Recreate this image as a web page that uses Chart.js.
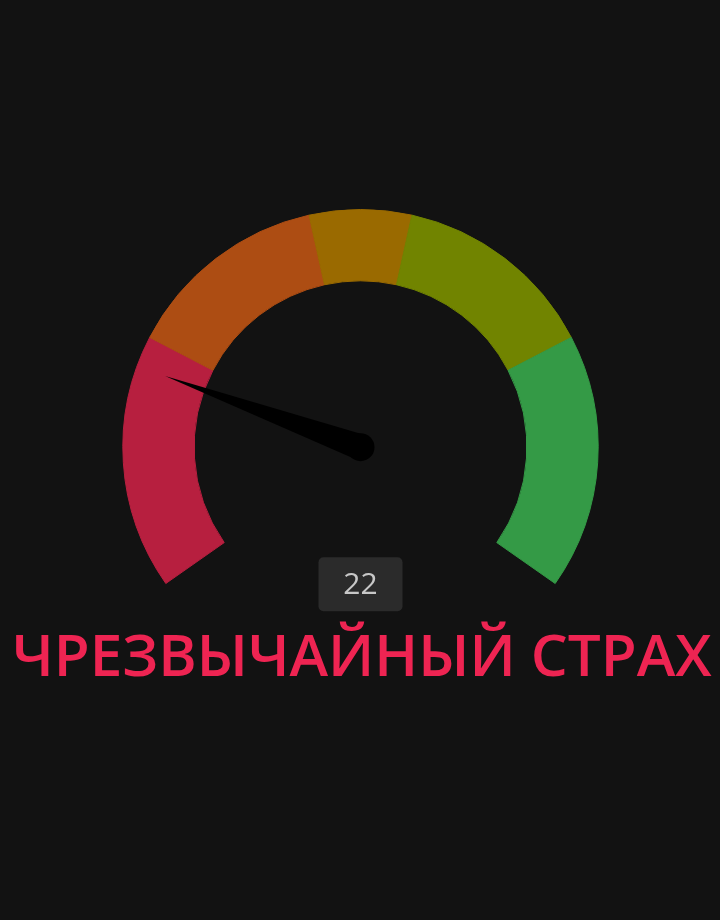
<!DOCTYPE html>
<html>
<head>
<meta charset="utf-8">
<script src="https://cdn.jsdelivr.net/npm/chart.js@4/dist/chart.umd.min.js"></script>
<style>
  html, body { margin: 0; padding: 0; background: #121212; }
  #wrap { position: relative; width: 720px; height: 920px; }
</style>
</head>
<body>
<div id="wrap"><canvas id="gauge"></canvas></div>
<script>
// zones of the fear & greed scale (0..100)
const zones = ["Чрезвычайный страх", "Страх", "Нейтрально", "Жадность", "Чрезвычайная жадность"];
const zoneSizes = [25, 20, 10, 20, 25];
const zoneColors = ["#b71f3f", "#ad4d13", "#9a6a00", "#718400", "#349a46"];
const indexValue = 22;
const indexLabel = "ЧРЕЗВЫЧАЙНЫЙ СТРАХ";

const ROTATION = -125;
const CIRCUMFERENCE = 250;

// needle + value badge + caption
const gaugeExtras = {
  id: "gaugeExtras",
  afterDatasetsDraw(chart) {
    const ctx = chart.ctx;
    const arc = chart.getDatasetMeta(0).data[0];
    const cx = arc.x, cy = arc.y, r = arc.outerRadius;
    const total = zoneSizes.reduce((a, b) => a + b, 0);

    const start = (ROTATION - 90) * Math.PI / 180;
    const ang = start + (indexValue / total) * CIRCUMFERENCE * Math.PI / 180;
    const len = r * 0.875;
    const hw = 13;

    ctx.save();
    ctx.fillStyle = "#000";
    ctx.beginPath();
    ctx.moveTo(cx + Math.cos(ang) * len, cy + Math.sin(ang) * len);
    ctx.lineTo(cx + Math.cos(ang + Math.PI / 2) * hw, cy + Math.sin(ang + Math.PI / 2) * hw);
    ctx.lineTo(cx + Math.cos(ang - Math.PI / 2) * hw, cy + Math.sin(ang - Math.PI / 2) * hw);
    ctx.closePath();
    ctx.fill();
    ctx.beginPath();
    ctx.arc(cx, cy, 14, 0, Math.PI * 2);
    ctx.fill();

    // value badge
    const bx = cx - 42, by = cy + 110, bw = 84, bh = 54;
    ctx.fillStyle = "#2b2b2b";
    ctx.beginPath();
    ctx.roundRect(bx, by, bw, bh, 5);
    ctx.fill();
    ctx.fillStyle = "#c8c8c8";
    ctx.font = "30px 'Open Sans'";
    ctx.textAlign = "center";
    ctx.textBaseline = "middle";
    ctx.fillText(String(indexValue), cx, by + bh / 2 + 1);

    // caption, sized to span the page width
    ctx.font = "600 56px 'Open Sans'";
    const w = ctx.measureText(indexLabel).width;
    const size = 56 * 700 / w;
    ctx.font = "600 " + size.toFixed(1) + "px 'Open Sans'";
    ctx.fillStyle = "#ee2452";
    ctx.textBaseline = "alphabetic";
    ctx.fillText(indexLabel, 362, 676);
    ctx.restore();
  }
};

new Chart(document.getElementById("gauge"), {
  type: "doughnut",
  data: {
    labels: zones,
    datasets: [{
      data: zoneSizes,
      backgroundColor: zoneColors,
      borderColor: zoneColors,
      borderWidth: 1,
    }],
  },
  options: {
    responsive: true,
    maintainAspectRatio: false,
    animation: false,
    rotation: ROTATION,
    circumference: CIRCUMFERENCE,
    cutout: "70%",
    layout: {
      padding: { left: 122, right: 121, top: 209, bottom: 336 },
    },
    plugins: {
      legend: { display: false },
      tooltip: { enabled: false },
    },
  },
  plugins: [gaugeExtras],
});
</script>
</body>
</html>
